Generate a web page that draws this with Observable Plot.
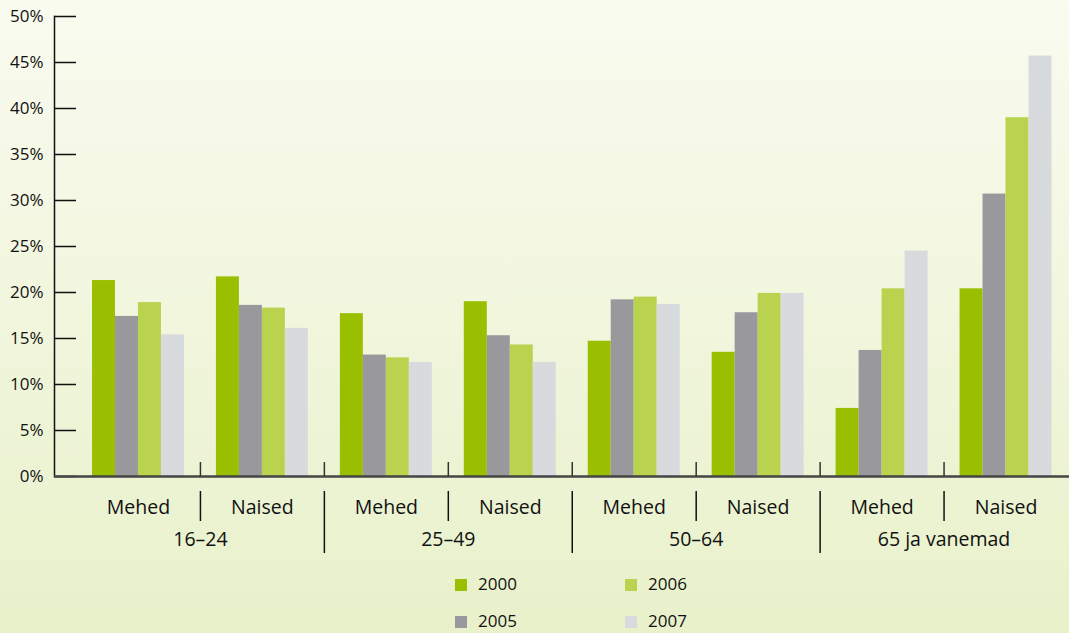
<!DOCTYPE html>
<html>
<head>
<meta charset="utf-8">
<script src="https://cdn.jsdelivr.net/npm/d3@7"></script>
<script src="https://cdn.jsdelivr.net/npm/@observablehq/plot@0.6"></script>
<style>
  html, body { margin: 0; padding: 0; }
  body {
    width: 1069px; height: 633px; overflow: hidden;
    background: linear-gradient(to bottom, #f9fbef 0%, #f1f6dd 50%, #e8f1ca 100%);
    font-family: "Open Sans", sans-serif; color: #111;
    position: relative;
  }
  #chart { position: absolute; left: 0; top: 0; }
  .leg { position: absolute; font-size: 17px; line-height: 1; }
  .leg span.sw { position: absolute; width: 12px; height: 12px; left: 0; top: 0; }
  .leg span.tx { position: absolute; left: 23px; top: -4px; white-space: nowrap; }
</style>
</head>
<body>
<div id="chart"></div>
<div id="legend"></div>
<script>
const groups = ["16–24", "25–49", "50–64", "65 ja vanemad"];
const sexes = ["Mehed", "Naised"];
const years = ["2000", "2005", "2006", "2007"];
const colors = ["#99bf00", "#99989d", "#b9d34f", "#d8dbdd"];
// values per category (16–24 M, 16–24 N, 25–49 M, 25–49 N, 50–64 M, 50–64 N, 65+ M, 65+ N)
const v2000 = [21.3, 21.7, 17.7, 19.0, 14.7, 13.5, 7.4, 20.4];
const v2005 = [17.4, 18.6, 13.2, 15.3, 19.2, 17.8, 13.7, 30.7];
const v2006 = [18.9, 18.3, 12.9, 14.3, 19.5, 19.9, 20.4, 39.0];
const v2007 = [15.4, 16.1, 12.4, 12.4, 18.7, 19.9, 24.5, 45.7];
const yTicks = [0, 5, 10, 15, 20, 25, 30, 35, 40, 45, 50];

const series = [v2000, v2005, v2006, v2007];
const nCat = groups.length * sexes.length;
const barW = 0.1855, offset = (1 - 4 * barW) / 2;
const data = [];
for (let i = 0; i < nCat; i++) {
  years.forEach((yr, j) => {
    data.push({cat: i, year: yr, j, value: series[j][i]});
  });
}
const sexLabels = d3.range(nCat).map(i => ({x: i + 0.5, text: sexes[i % 2]}));
const groupLabels = groups.map((g, k) => ({x: 2 * k + 1, text: g}));
const innerDiv = d3.range(1, nCat, 2);
const outerDiv = d3.range(2, nCat, 2);
const allDiv = d3.range(1, nCat);

const W = 1069, H = 565, mL = 54, mT = 16, mB = H - 476, mR = 0;
const frameW = W - mL - mR;
const frameH = H - mT - mB;

const chart = Plot.plot({
  width: W, height: H,
  marginLeft: mL, marginRight: mR, marginTop: mT, marginBottom: mB,
  style: {background: "transparent", fontFamily: "Open Sans, sans-serif", fontSize: "17px", color: "#111", overflow: "visible"},
  x: {type: "linear", domain: [0, nCat], insetLeft: 22, insetRight: 1.5, axis: null},
  y: {domain: [0, 50], axis: null},
  color: {domain: years, range: colors},
  marks: [
    Plot.rectY(data, {
      x1: d => d.cat + offset + d.j * barW,
      x2: d => d.cat + offset + (d.j + 1) * barW,
      y: "value", fill: "year"
    }),
    Plot.frame({anchor: "left", stroke: "#111", strokeWidth: 1.5}),
    Plot.text(yTicks, {y: d => d, text: d => d + "%", frameAnchor: "left", textAnchor: "end", dx: -11, fontSize: 17, fill: "#111"}),
    Plot.tickY(yTicks, {y: d => d, insetRight: frameW - 22, stroke: "#111", strokeWidth: 1.5}),
    Plot.ruleY([0], {stroke: "#454545", strokeWidth: 2.5}),
    Plot.tickX(allDiv, {x: d => d, insetTop: frameH - 14, stroke: "#333", strokeWidth: 1.5}),
    Plot.tickX(innerDiv, {x: d => d, insetTop: frameH + 15, insetBottom: -45, stroke: "#111", strokeWidth: 1.5}),
    Plot.tickX(outerDiv, {x: d => d, insetTop: frameH + 15, insetBottom: -77, stroke: "#111", strokeWidth: 1.5}),
    Plot.text(sexLabels, {x: "x", text: "text", frameAnchor: "bottom", dy: 37, fontSize: 19.5, fill: "#111"}),
    Plot.text(groupLabels, {x: "x", text: "text", frameAnchor: "bottom", dy: 69, fontSize: 19.5, fill: "#111"})
  ]
});
document.getElementById("chart").appendChild(chart);

// legend
const legPos = [
  {left: 455, top: 579}, {left: 455, top: 616},
  {left: 625, top: 579}, {left: 625, top: 616}
];
const leg = document.getElementById("legend");
years.forEach((yr, j) => {
  const d = document.createElement("div");
  d.className = "leg";
  d.style.left = legPos[j].left + "px";
  d.style.top = legPos[j].top + "px";
  d.innerHTML = `<span class="sw" style="background:${colors[j]}"></span><span class="tx">${yr}</span>`;
  leg.appendChild(d);
});
</script>
</body>
</html>
